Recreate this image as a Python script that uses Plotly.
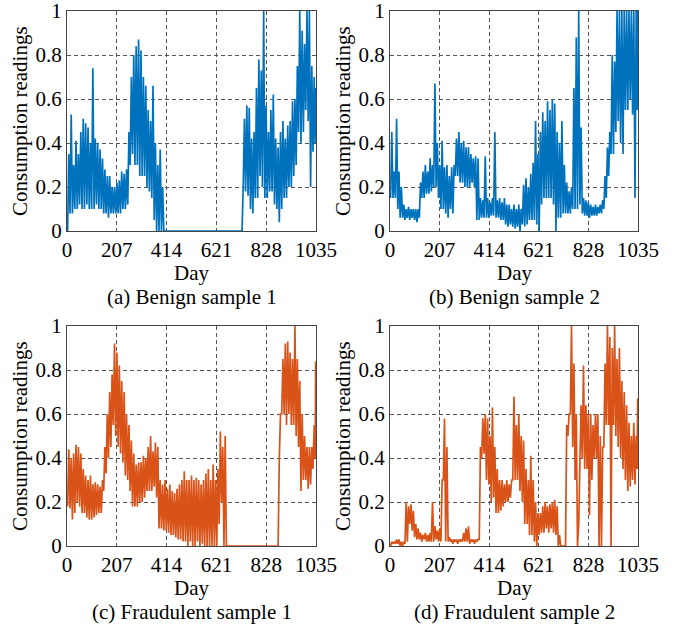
import plotly.graph_objects as go

# ---------------- data (10-day bins, low / high reading in each bin) ----------------
bin_start = list(range(0, 1035, 10))  # 104 bins

a_lo = [0.0, 0.08, 0.08, 0.1, 0.1, 0.12, 0.1, 0.1, 0.12, 0.1,
        0.1, 0.1, 0.12, 0.1, 0.1, 0.08, 0.08, 0.06, 0.08, 0.08,
        0.08, 0.08, 0.08, 0.1, 0.1, 0.12, 0.3, 0.35, 0.3, 0.3,
        0.25, 0.25, 0.25, 0.2, 0.18, 0.15, 0.05, 0.0, 0.0, 0.0,
        0, 0, 0, 0, 0, 0, 0, 0, 0, 0,
        0, 0, 0, 0, 0, 0, 0, 0, 0, 0,
        0, 0, 0, 0, 0, 0, 0, 0, 0, 0,
        0, 0, 0.0, 0.2, 0.18, 0.16, 0.1, 0.08, 0.15, 0.15,
        0.25, 0.2, 0.15, 0.15, 0.18, 0.18, 0.12, 0.1, 0.04, 0.1,
        0.15, 0.15, 0.2, 0.2, 0.25, 0.3, 0.45, 0.4, 0.45, 0.55,
        0.5, 0.2, 0.36, 0.4]
a_hi = [0.35, 0.53, 0.3, 0.41, 0.35, 0.45, 0.51, 0.49, 0.47, 0.4,
        0.74, 0.42, 0.4, 0.37, 0.33, 0.28, 0.25, 0.25, 0.2, 0.2,
        0.22, 0.23, 0.27, 0.26, 0.28, 0.45, 0.7, 0.8, 0.84, 0.87,
        0.82, 0.7, 0.66, 0.55, 0.5, 0.66, 0.4, 0.3, 0.37, 0.2,
        0, 0, 0, 0, 0, 0, 0, 0, 0, 0,
        0, 0, 0, 0, 0, 0, 0, 0, 0, 0,
        0, 0, 0, 0, 0, 0, 0, 0, 0, 0,
        0, 0, 0.0, 0.51, 0.57, 0.56, 0.42, 0.45, 0.65, 0.78,
        0.73, 1.0, 0.57, 0.45, 0.55, 0.62, 0.42, 0.38, 0.45, 0.5,
        0.42, 0.48, 0.5, 0.59, 0.6, 0.75, 1.0, 0.91, 0.85, 1.0,
        1.0, 0.75, 0.7, 0.65]

b_lo = [0.15, 0.15, 0.15, 0.1, 0.06, 0.06, 0.05, 0.06, 0.05, 0.06,
        0.05, 0.04, 0.06, 0.15, 0.15, 0.17, 0.17, 0.18, 0.2, 0.2,
        0.15, 0.1, 0.1, 0.08, 0.06, 0.1, 0.08, 0.25, 0.25, 0.22,
        0.22, 0.2, 0.2, 0.2, 0.22, 0.2, 0.05, 0.05, 0.06, 0.06,
        0.06, 0.06, 0.07, 0.07, 0.06, 0.06, 0.05, 0.05, 0.03, 0.02,
        0.03, 0.02, 0.01, 0.02, 0.0, 0.03, 0.02, 0.03, 0.05, 0.05,
        0.05, 0.03, 0.0, 0.12, 0.15, 0.15, 0.15, 0.15, 0.12, 0.0,
        0.06, 0.06, 0.08, 0.08, 0.08, 0.08, 0.1, 0.1, 0.1, 0.12,
        0.08, 0.07, 0.07, 0.06, 0.07, 0.07, 0.07, 0.08, 0.08, 0.1,
        0.15, 0.25, 0.35, 0.35, 0.45, 0.5, 0.4, 0.35, 0.55, 0.55,
        0.6, 0.53, 0.15, 0.55]
b_hi = [0.45, 0.27, 0.51, 0.27, 0.2, 0.12, 0.1, 0.11, 0.1, 0.1,
        0.1, 0.1, 0.22, 0.27, 0.3, 0.27, 0.33, 0.3, 0.67, 0.4,
        0.3, 0.41, 0.29, 0.3, 0.25, 0.29, 0.3, 0.42, 0.45, 0.4,
        0.41, 0.38, 0.38, 0.35, 0.33, 0.34, 0.33, 0.15, 0.14, 0.34,
        0.15, 0.13, 0.15, 0.45, 0.14, 0.15, 0.13, 0.15, 0.12, 0.12,
        0.1, 0.12, 0.1, 0.12, 0.1, 0.21, 0.24, 0.2, 0.26, 0.31,
        0.5, 0.35, 0.45, 0.54, 0.5, 0.59, 0.55, 0.6, 0.58, 0.45,
        0.4, 0.5, 0.3, 0.22, 0.18, 0.2, 0.65, 0.88, 1.0, 0.47,
        0.15, 0.14, 0.13, 0.12, 0.11, 0.12, 0.11, 0.12, 0.14, 0.25,
        0.38, 0.45, 0.8, 0.77, 1.0, 1.0, 1.0, 1.0, 1.0, 1.0,
        1.0, 1.0, 1.0, 1.0]

c_lo = [0.18, 0.17, 0.12, 0.15, 0.2, 0.18, 0.15, 0.15, 0.13, 0.12,
        0.12, 0.13, 0.14, 0.15, 0.15, 0.25, 0.33, 0.4, 0.45, 0.55,
        0.5, 0.45, 0.42, 0.38, 0.32, 0.3, 0.25, 0.18, 0.18, 0.18,
        0.2, 0.2, 0.22, 0.25, 0.25, 0.25, 0.27, 0.22, 0.08, 0.08,
        0.07, 0.07, 0.06, 0.05, 0.05, 0.04, 0.03, 0.03, 0.02, 0.02,
        0.0, 0.02, 0.0, 0.0, 0.02, 0.0, 0.01, 0.0, 0.0, 0.0,
        0.0, 0.0, 0.0, 0.1, 0.2, 0.0, 0, 0, 0, 0,
        0, 0, 0, 0, 0, 0, 0, 0, 0, 0,
        0, 0, 0, 0, 0, 0, 0, 0, 0.4, 0.6,
        0.6, 0.55, 0.6, 0.55, 0.55, 0.5, 0.45, 0.25, 0.3, 0.3,
        0.26, 0.28, 0.35, 0.4]
c_hi = [0.44, 0.4, 0.42, 0.46, 0.45, 0.42, 0.35, 0.32, 0.3, 0.32,
        0.28, 0.29, 0.28, 0.27, 0.3, 0.45, 0.6, 0.7, 0.78, 0.92,
        0.88, 0.82, 0.75, 0.7, 0.6, 0.55, 0.48, 0.42, 0.37, 0.38,
        0.38, 0.41, 0.4, 0.45, 0.5, 0.43, 0.47, 0.45, 0.3, 0.28,
        0.3, 0.26, 0.28, 0.25, 0.24, 0.26, 0.28, 0.3, 0.34, 0.3,
        0.3, 0.32, 0.3, 0.31, 0.3, 0.28, 0.3, 0.33, 0.35, 0.3,
        0.37, 0.3, 0.35, 0.52, 0.45, 0.5, 0, 0, 0, 0,
        0, 0, 0, 0, 0, 0, 0, 0, 0, 0,
        0, 0, 0, 0, 0, 0, 0, 0, 0.6, 0.85,
        0.92, 0.93, 0.88, 0.85, 1.0, 0.85, 0.75, 0.6, 0.5, 0.45,
        0.45, 0.45, 0.55, 0.84]

d_lo = [0.0, 0.01, 0.01, 0.01, 0.0, 0.0, 0.01, 0.02, 0.1, 0.07,
        0.04, 0.03, 0.03, 0.02, 0.03, 0.02, 0.02, 0.02, 0.02, 0.03,
        0.02, 0.02, 0.3, 0.02, 0.02, 0.02, 0.01, 0.02, 0.01, 0.02,
        0.02, 0.02, 0.02, 0.01, 0.02, 0.01, 0.02, 0.03, 0.4, 0.42,
        0.3, 0.28, 0.2, 0.22, 0.15, 0.15, 0.16, 0.18, 0.2, 0.2,
        0.22, 0.3, 0.3, 0.3, 0.25, 0.2, 0.1, 0.1, 0.05, 0.05,
        0.02, 0.0, 0.05, 0.06, 0.06, 0.08, 0.06, 0.08, 0.06, 0.05,
        0.0, 0.0, 0.0, 0.0, 0.5, 0.6, 0.45, 0.3, 0.0, 0.35,
        0.4, 0.35, 0.35, 0.14, 0.3, 0.4, 0.4, 0.0, 0.0, 0.45,
        0.55, 0.55, 0.0, 0.55, 0.5, 0.45, 0.4, 0.35, 0.3, 0.25,
        0.27, 0.3, 0.28, 0.35]
d_hi = [0.02, 0.02, 0.03, 0.03, 0.02, 0.02, 0.2, 0.18, 0.19, 0.16,
        0.1, 0.08, 0.06, 0.05, 0.06, 0.05, 0.06, 0.2, 0.09, 0.07,
        0.08, 0.3, 0.58, 0.45, 0.04, 0.03, 0.03, 0.03, 0.03, 0.03,
        0.06, 0.08, 0.09, 0.03, 0.03, 0.03, 0.03, 0.45, 0.58, 0.6,
        0.58, 0.5, 0.63, 0.45, 0.35, 0.3, 0.3, 0.28, 0.3, 0.28,
        0.3, 0.68, 0.55, 0.6, 0.5, 0.48, 0.35, 0.3, 0.41, 0.3,
        0.2, 0.15, 0.15, 0.18, 0.2, 0.18, 0.19, 0.2, 0.21, 0.18,
        0.05, 0.0, 0.0, 0.55, 0.6, 1.0, 0.83, 0.6, 0.1, 0.64,
        0.82, 0.64, 0.6, 0.6, 0.55, 0.6, 0.6, 0.5, 0.45, 0.83,
        1.0, 0.95, 0.9, 1.0, 0.85, 0.9, 0.75, 0.7, 0.64, 0.56,
        0.5, 0.56, 0.5, 0.67]

x_ticks = [0, 207, 414, 621, 828, 1035]
y_ticks = [0, 0.2, 0.4, 0.6, 0.8, 1]
y_ticktext = ["0", "0.2", "0.4", "0.6", "0.8", "1"]
captions = ["(a) Benign sample 1", "(b) Benign sample 2",
            "(c) Fraudulent sample 1", "(d) Fraudulent sample 2"]
BLUE = "#0072BD"
ORANGE = "#D95319"


def zigzag(lo, hi):
    xs, ys = [], []
    for s, l, h in zip(bin_start, lo, hi):
        w = min(10, 1035 - s)
        xs += [s + 0.25 * w, s + 0.75 * w]
        ys += [l, h]
    return xs, ys


W, H = 683, 627
cols = [(67, 316), (390, 638)]
rows = [(11, 231), (326, 546)]
FONT = "Liberation Serif"
FS = 21

fig = go.Figure()
series = [(a_lo, a_hi, BLUE), (b_lo, b_hi, BLUE), (c_lo, c_hi, ORANGE), (d_lo, d_hi, ORANGE)]
annotations = []
for k, (lo, hi, col) in enumerate(series):
    r, c = divmod(k, 2)
    xs, ys = zigzag(lo, hi)
    ax = "" if k == 0 else str(k + 1)
    fig.add_trace(go.Scatter(x=xs, y=ys, mode="lines", line=dict(color=col, width=1.7),
                             xaxis="x" + ax, yaxis="y" + ax, showlegend=False, hoverinfo="skip"))
    x0, x1 = cols[c]
    y0, y1 = rows[r]
    common = dict(showline=True, mirror=True, linecolor="#444444", linewidth=1,
                  showgrid=True, gridcolor="#555555", gridwidth=1, griddash="4px,3px",
                  zeroline=False, ticks="", automargin=False, ticklabeloverflow="allow",
                  tickfont=dict(family=FONT, size=FS, color="black"))
    fig.layout["xaxis" + ax] = dict(domain=[x0 / W, x1 / W], range=[0, 1035], tickvals=x_ticks,
                                    anchor="y" + ax, **common)
    fig.layout["yaxis" + ax] = dict(domain=[1 - y1 / H, 1 - y0 / H], range=[0, 1], tickvals=y_ticks,
                                    ticktext=y_ticktext, anchor="x" + ax, **common)
    cx = (x0 + x1) / 2
    annotations.append(dict(text="Day", x=cx / W, y=1 - (y1 + 42) / H, xref="paper", yref="paper",
                            showarrow=False, font=dict(family=FONT, size=FS, color="black"),
                            xanchor="center", yanchor="middle"))
    annotations.append(dict(text=captions[k], x=cx / W, y=1 - (y1 + 66) / H, xref="paper", yref="paper",
                            showarrow=False, font=dict(family=FONT, size=FS, color="black"),
                            xanchor="center", yanchor="middle"))
    annotations.append(dict(text="Consumption readings", x=(x0 - 47) / W, y=1 - (y0 + y1) / 2 / H,
                            xref="paper", yref="paper", textangle=-90, showarrow=False,
                            font=dict(family=FONT, size=FS, color="black"),
                            xanchor="center", yanchor="middle"))

fig.update_layout(width=W, height=H, margin=dict(l=0, r=0, t=0, b=0),
                  paper_bgcolor="white", plot_bgcolor="white", annotations=annotations)
fig.write_html("out.html", config={"displayModeBar": False},
               post_script="document.body.style.margin='0';document.body.style.overflow='hidden';")
